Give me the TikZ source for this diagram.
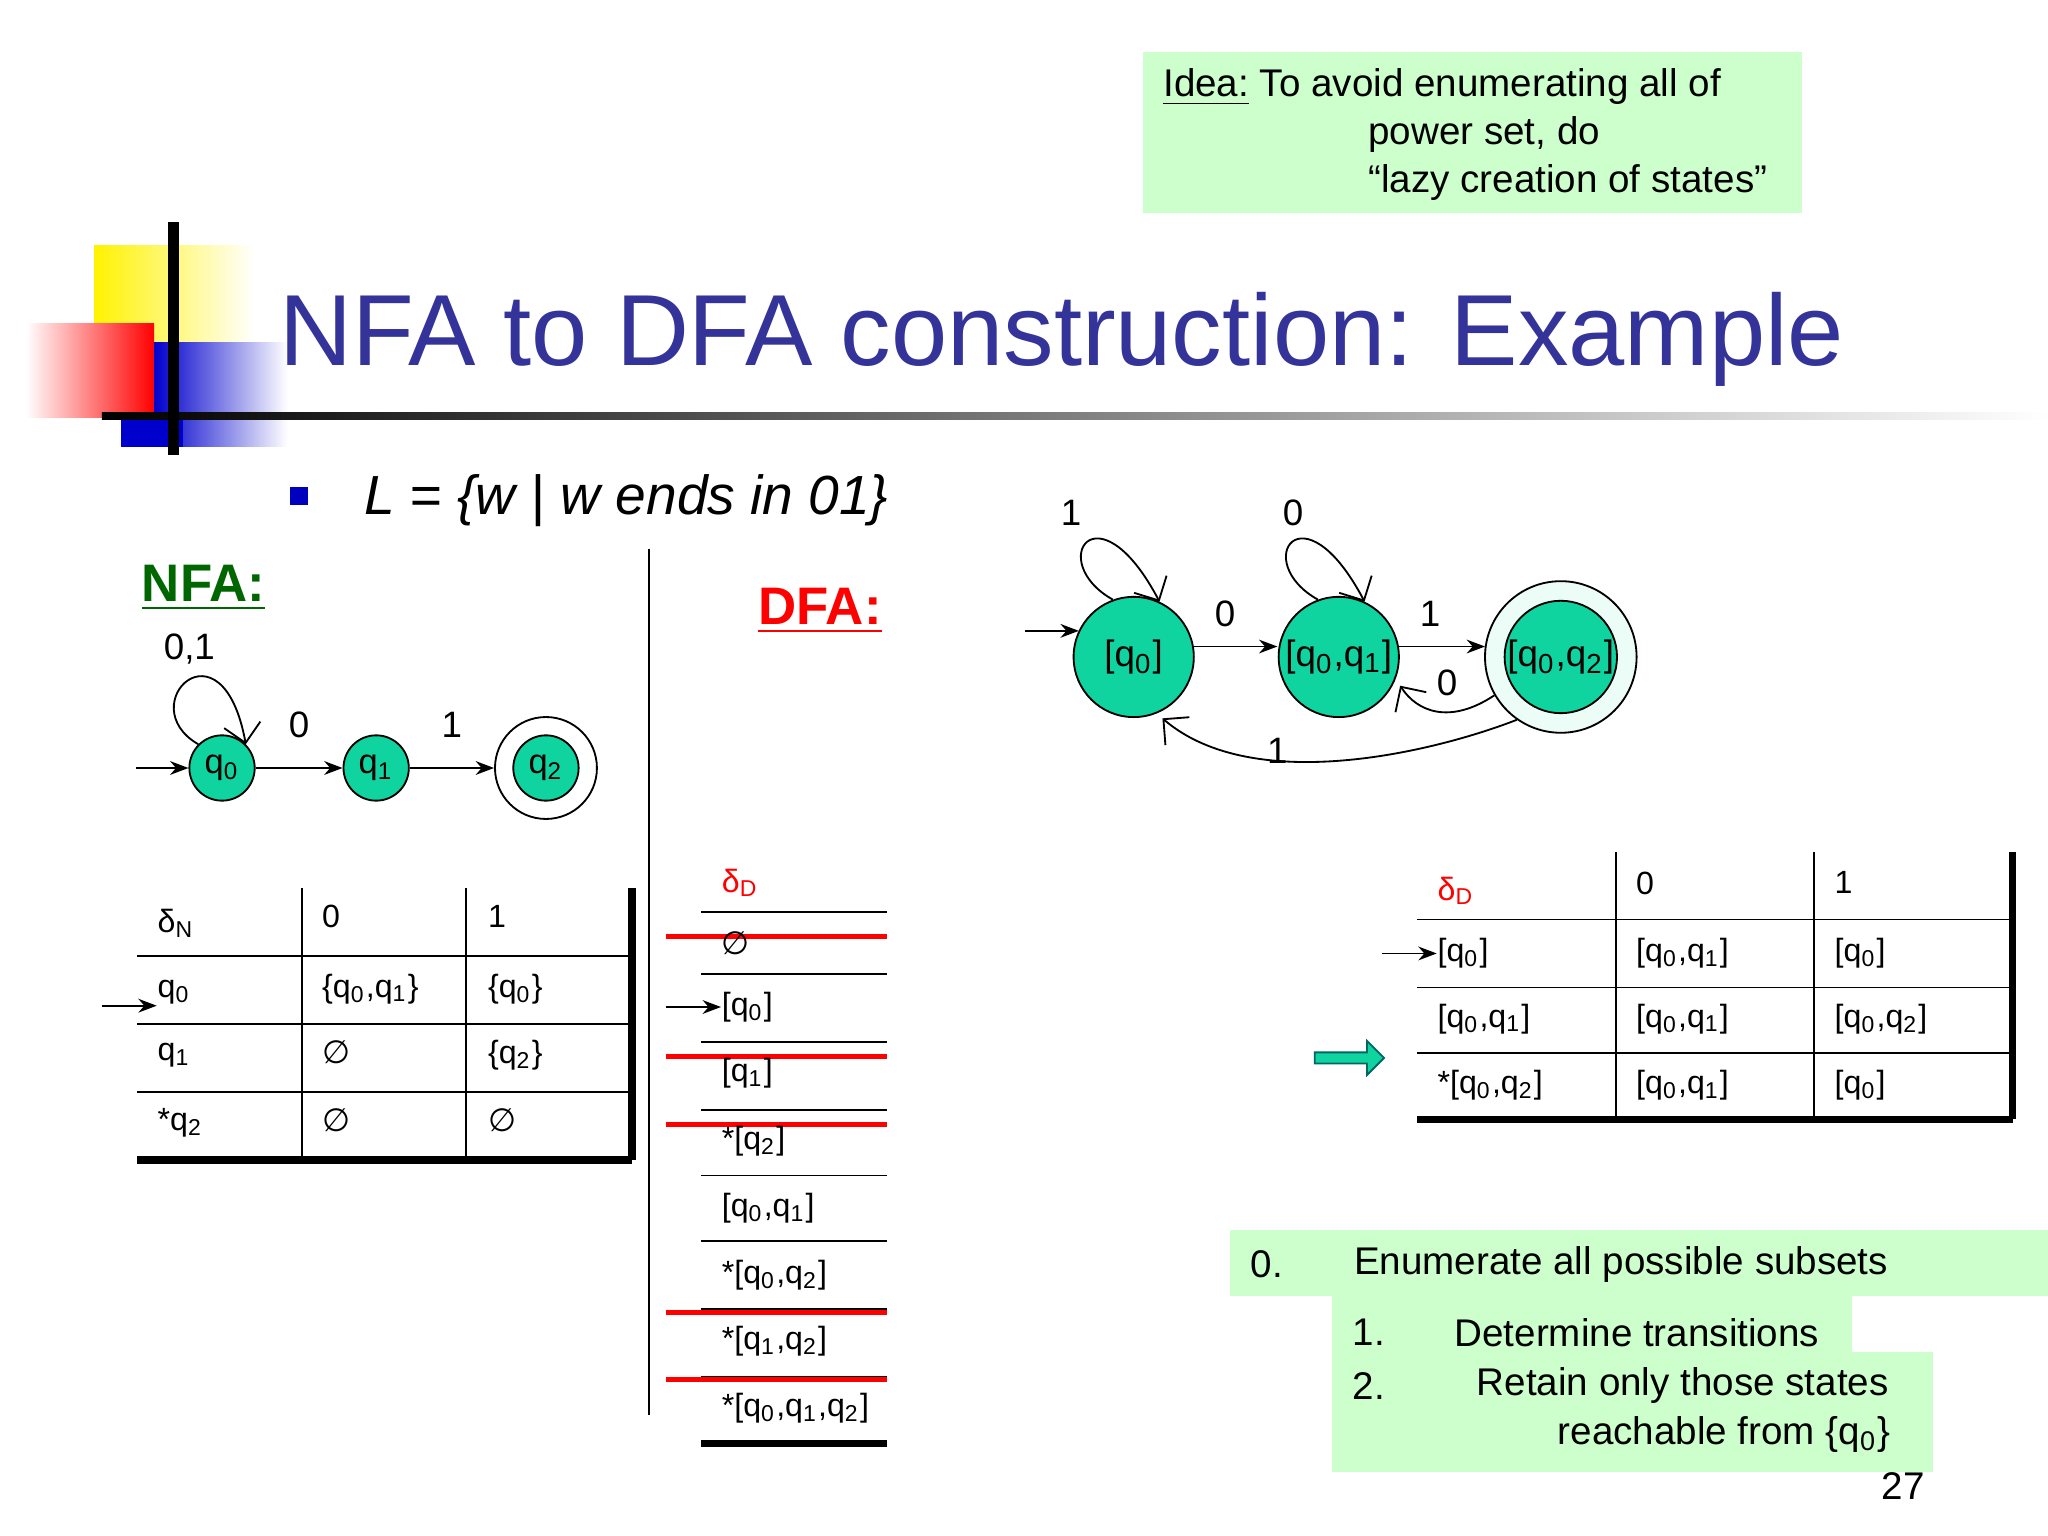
\documentclass[tikz,border=0pt]{standalone}
\usepackage{fontspec}
\setmainfont{Liberation Sans}
\newfontfamily\dvs{DejaVu Sans}
\usetikzlibrary{arrows.meta,shapes.arrows}
\definecolor{lg}{RGB}{204,255,204}
\definecolor{st}{RGB}{16,212,160}
\definecolor{tt}{RGB}{51,51,153}
\newcommand{\fs}[1]{\fontsize{#1}{#1}\selectfont}
\newcommand{\q}[1]{q\textsubscript{#1}}
\newcommand{\es}{{\dvs ∅}}
\tikzset{x=0.01cm,y=-0.01cm,
 stt/.style={circle,draw,fill=st,minimum size=0.5cm,inner sep=0,font=\fs{7.5pt}},
 dst/.style={circle,draw,fill=st,minimum size=0.92cm,inner sep=0,font=\fs{8pt}},
 arr/.style={-{Stealth[length=4pt]}},
 oarr/.style={-{Straight Barb[length=4pt]}},
 txt/.style={anchor=west,inner sep=0,font=\fs{7pt}},
 btxt/.style={anchor=west,inner sep=0,font=\fs{8.4pt}},
 rl/.style={red,line width=1.2pt}}
\begin{document}
\begin{tikzpicture}
\useasboundingbox (0,0) rectangle (1568,1176);
% decoration
\shade[left color=yellow!90!orange,right color=white] (72,188) rectangle (195,262);
\shade[left color=white,right color=red] (20,248) rectangle (118,320);
\shade[left color=blue!80!black,right color=white] (118,262) rectangle (220,342);
\fill[blue!80!black] (93,320) rectangle (140,342);
\shade[left color=black,right color=white] (78,316) rectangle (1568,321);
\draw[line width=2.5pt] (133,170) -- (133,348);
\node[anchor=base west,inner sep=0,text=tt,font=\fs{22pt}] (title) at (213,280) {NFA to DFA construction: Example};
% idea box
\fill[lg] (875,40) rectangle (1380,163);
\node[btxt] (i1) at (890,67) {\underline{Idea:} To avoid enumerating all of};
\node[btxt] (i2) at (1047,103) {power set, do};
\node[btxt] (i3) at (1047,140) {“lazy creation of states”};
% bullet
\fill[blue!75!black] (222,373) rectangle (236,387);
\node[anchor=west,inner sep=0,font=\fs{12pt}\itshape] (L) at (278,383) {L = \{w | w ends in 01\}};
\draw (497,420) -- (497,1083);
\node[anchor=west,inner sep=0,font=\fs{11.5pt}\bfseries,text=green!40!black] (nfa) at (108,450) {\underline{NFA:}};
\node[anchor=west,inner sep=0,font=\fs{11.5pt}\bfseries,text=red] (dfa) at (580,468) {\underline{DFA:}};
% NFA graph
\node[stt] (n0) at (170,588) {\q0};
\node[stt] (n1) at (288,588) {\q1};
\node[stt] (n2) at (418,588) {\q2};
\node[circle,draw,minimum size=0.78cm] (n2o) at (418,588) {};
\coordinate (ns) at (104,588);
\draw[arr] (ns) -- (n0);
\draw[arr] (n0) -- node[above=3pt,font=\fs{8pt}]{0} (n1);
\draw[arr] (n1) -- node[above=3pt,font=\fs{8pt}]{1} (n2o);
\draw[oarr] (n0.north west) .. controls (100,540) and (170,470) .. (n0.north east);
\node[font=\fs{8pt}] (l01) at (145,497) {0,1};
% NFA table
\draw (105,732) -- (484,732) (105,784) -- (484,784) (105,836) -- (484,836);
\draw[line width=1.6pt] (105,888) -- (484,888) (484,680) -- (484,888);
\draw (231,680) -- (231,888) (357,680) -- (357,888);
\node[txt] (h0) at (120,707) {δ\textsubscript{N}};
\node[txt] (h1) at (246,702) {0};
\node[txt] (h2) at (373,702) {1};
\node[txt] (r0) at (120,760) {\q0};
\node[txt] at (246,757) {\{\q0,\q1\}};
\node[txt] at (373,757) {\{\q0\}};
\node[txt] (r1) at (120,808) {\q1};
\node[txt] at (246,806) {\es};
\node[txt] at (373,808) {\{\q2\}};
\node[txt] (r2) at (120,860) {*\q2};
\node[txt] at (246,858) {\es};
\node[txt] at (373,858) {\es};
\coordinate (ta) at (78,770);
\draw[arr] (ta) -- (r0.west |- ta);
% DFA list
\foreach \y in {698,746,798,850,900,950,1002,1054} \draw (537,\y) -- (679,\y);
\draw[line width=1.6pt] (537,1105) -- (679,1105);
\foreach \y in {717,809,861,1005,1056} \draw[rl] (510,\y) -- (679,\y);
\node[txt,text=red] (dd) at (552,676) {δ\textsubscript{D}};
\node[txt] (e0) at (552,722) {\es};
\node[txt] (e1) at (552,771) {[\q0]};
\node[txt] (e2) at (552,822) {[\q1]};
\node[txt] (e3) at (552,874) {*[\q2]};
\node[txt] (e4) at (552,925) {[\q0,\q1]};
\node[txt] (e5) at (552,976) {*[\q0,\q2]};
\node[txt] (e6) at (552,1027) {*[\q1,\q2]};
\node[txt] (e7) at (552,1078) {*[\q0,\q1,\q2]};
\coordinate (la) at (510,771);
\draw[arr] (la) -- (e1.west);
% DFA graph
\node[circle,draw,fill=st!8,minimum size=1.16cm] (d2o) at (1195,503) {};
\node[dst] (d0) at (868,503) {[\q0]};
\node[dst] (d1) at (1025,503) {[\q0,\q1]};
\node[dst,minimum size=0.86cm] (d2) at (1195,503) {[\q0,\q2]};
\coordinate (ds) at (785,483);
\draw[arr] (ds) -- (826,483);
\draw[arr] (914,495) -- (978,495);
\draw[arr] (1071,495) -- (1137,495);
\node[font=\fs{8pt}] (la0) at (938,470) {0};
\node[font=\fs{8pt}] (la1) at (1095,470) {1};
\draw[oarr] (d0.110) .. controls (800,430) and (840,370) .. (d0.65);
\draw[oarr] (d1.110) .. controls (957,430) and (997,370) .. (d1.65);
\node[font=\fs{8pt}] (l1) at (820,393) {1};
\node[font=\fs{8pt}] (l0) at (990,393) {0};
\draw[oarr] (d2o.210) .. controls (1110,555) and (1085,545) .. (1072,525);
\node[font=\fs{8pt}] (l20) at (1108,523) {0};
\draw[oarr] (d2o.235) .. controls (1100,575) and (960,610) .. (890,550);
\node[font=\fs{8pt}] (l21) at (978,575) {1};
% right table
\draw (1085,704) -- (1541,704) (1085,756) -- (1541,756) (1085,806) -- (1541,806);
\draw[line width=1.6pt] (1085,857) -- (1541,857) (1541,652) -- (1541,857);
\draw (1237,652) -- (1237,857) (1389,652) -- (1389,857);
\node[txt,text=red] (rd) at (1100,682) {δ\textsubscript{D}};
\node[txt] at (1252,676) {0};
\node[txt] at (1404,676) {1};
\node[txt] (s0) at (1100,730) {[\q0]};
\node[txt] at (1252,730) {[\q0,\q1]};
\node[txt] at (1404,730) {[\q0]};
\node[txt] (s1) at (1100,780) {[\q0,\q1]};
\node[txt] at (1252,780) {[\q0,\q1]};
\node[txt] at (1404,780) {[\q0,\q2]};
\node[txt] (s2) at (1100,831) {*[\q0,\q2]};
\node[txt] at (1252,831) {[\q0,\q1]};
\node[txt] at (1404,831) {[\q0]};
\coordinate (ra) at (1058,730);
\draw[arr] (ra) -- (s0.west);
\node[single arrow,draw=teal!80!black,fill=st,minimum height=0.53cm,minimum width=0.26cm,single arrow head extend=0.05cm,inner sep=0.5pt] (big) at (1031,810) {};
% bottom boxes
\fill[lg] (942,942) rectangle (1568,992);
\fill[lg] (1020,992) rectangle (1418,1035);
\fill[lg] (1020,1035) rectangle (1480,1127);
\node[btxt] (b0) at (957,968) {0.};
\node[btxt] at (1036,968) {Enumerate all possible subsets};
\node[btxt] (b1) at (1035,1020) {1.};
\node[btxt] at (1113,1020) {Determine transitions};
\node[btxt] (b2) at (1035,1061) {2.};
\node[btxt] at (1130,1061) {Retain only those states};
\node[btxt] at (1192,1098) {reachable from \{\q0\}};
\node[btxt] (pg) at (1440,1138) {27};
\end{tikzpicture}
\end{document}
